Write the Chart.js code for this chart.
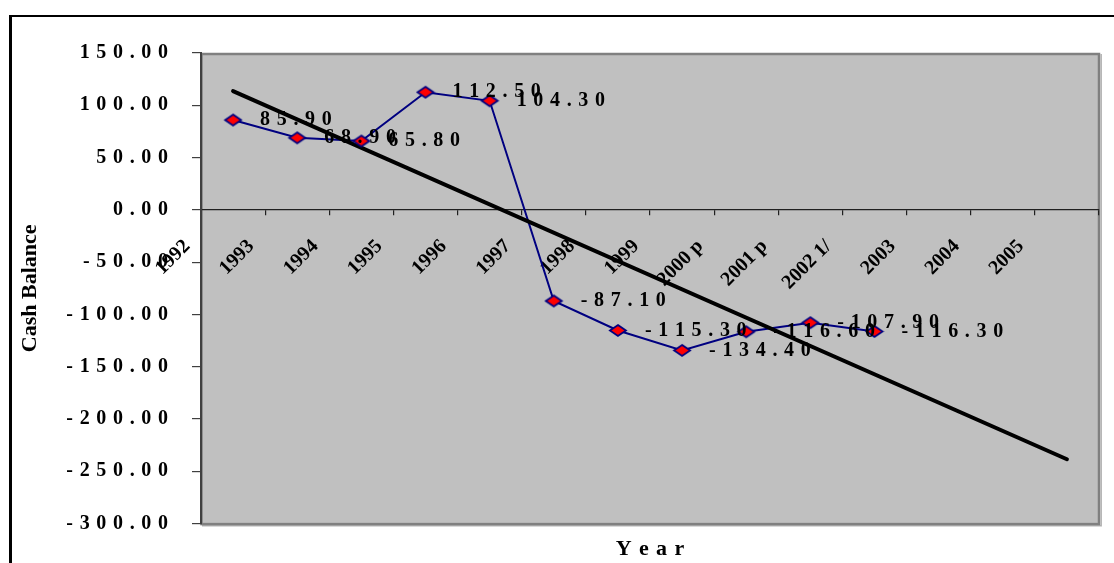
<!DOCTYPE html>
<html>
<head>
<meta charset="utf-8">
<script src="https://cdn.jsdelivr.net/npm/chart.js@4.4.1/dist/chart.umd.min.js"></script>
<style>
  html, body { margin: 0; padding: 0; background: #ffffff; }
  #wrap { position: relative; width: 1114px; height: 563px; overflow: hidden; background: #ffffff; }
  #frame { position: absolute; left: 9px; top: 15px; width: 1200px; height: 700px;
           border-left: 3px solid #000; border-top: 2.5px solid #000; }
  #c { position: absolute; left: 0; top: 0; }
</style>
</head>
<body>
<div id="wrap">
  <div id="frame"></div>
  <canvas id="c" width="1114" height="563"></canvas>
</div>
<script>
// Category labels along the year axis
const years = ['1992', '1993', '1994', '1995', '1996', '1997', '1998', '1999',
               '2000 p', '2001 p', '2002 1/', '2003', '2004', '2005'];

// Cash balance per year
const cashBalance = [85.90, 68.90, 65.80, 112.50, 104.30, -87.10, -115.30,
                     -134.40, -116.60, -107.90, -116.30];

// Linear trend: first and last values, the line spans the gap between them
const trendLine = [113.5, null, null, null, null, null, null, null, null, null,
                   null, null, null, -238.5];

// Value axis range and step
const yRange = [-300, 150];
const yStep = 50;

const SERIF = "'Liberation Serif', 'Times New Roman', serif";

// Wide-set characters, as printed in the document
const spaced = s => String(s).split('').join('\u2004');

// Flattened red diamond marker with navy outline
function diamondMarker(w, h) {
  const c = document.createElement('canvas');
  c.width = w + 4; c.height = h + 4;
  const g = c.getContext('2d');
  g.beginPath();
  g.moveTo(c.width / 2, 2);
  g.lineTo(c.width - 2, c.height / 2);
  g.lineTo(c.width / 2, c.height - 2);
  g.lineTo(2, c.height / 2);
  g.closePath();
  g.fillStyle = '#ff0000';
  g.fill();
  g.lineWidth = 1.8;
  g.strokeStyle = '#000080';
  g.stroke();
  return c;
}

// Grey plot area with a framed edge
const plotFrame = {
  id: 'plotFrame',
  beforeDraw(chart) {
    const { ctx, chartArea: a } = chart;
    ctx.save();
    ctx.fillStyle = '#c0c0c0';
    ctx.fillRect(a.left, a.top, a.right - a.left, a.bottom - a.top);
    ctx.strokeStyle = '#b4b4b4';
    ctx.lineWidth = 1.5;
    ctx.beginPath();
    ctx.moveTo(a.right + 2.2, a.top + 1);
    ctx.lineTo(a.right + 2.2, a.bottom + 2.2);
    ctx.lineTo(a.left + 1, a.bottom + 2.2);
    ctx.stroke();
    ctx.strokeStyle = '#808080';
    ctx.lineWidth = 2.5;
    ctx.strokeRect(a.left + 0.5, a.top + 1, a.right - a.left - 0.5, a.bottom - a.top - 0.5);
    ctx.restore();
  }
};

// Value labels beside each marker
const valueLabels = {
  id: 'valueLabels',
  afterDatasetsDraw(chart) {
    const { ctx } = chart;
    const meta = chart.getDatasetMeta(0);
    const values = chart.data.datasets[0].data;
    ctx.save();
    ctx.font = 'bold 20px ' + SERIF;
    ctx.fillStyle = '#000000';
    ctx.textAlign = 'left';
    ctx.textBaseline = 'middle';
    meta.data.forEach((pt, i) => {
      const v = values[i];
      if (v === null || v === undefined) return;
      ctx.fillText(spaced(v.toFixed(2)), pt.x + 27, pt.y);
    });
    ctx.restore();
  }
};

new Chart(document.getElementById('c'), {
  type: 'line',
  data: {
    labels: years,
    datasets: [
      {
        label: 'Cash Balance',
        data: cashBalance,
        showLine: false,
        pointStyle: diamondMarker(16, 11),
        pointRadius: 8,
        pointHoverRadius: 8
      },
      {
        label: 'Trend',
        data: trendLine,
        spanGaps: true,
        borderColor: '#000000',
        borderWidth: 4,
        borderCapStyle: 'round',
        pointRadius: 0,
        pointHoverRadius: 0,
        tension: 0
      },
      {
        label: 'Cash Balance line',
        data: cashBalance,
        borderColor: '#000080',
        borderWidth: 2,
        pointRadius: 0,
        pointHoverRadius: 0,
        tension: 0
      }
    ]
  },
  options: {
    responsive: false,
    animation: false,
    events: [],
    layout: { padding: { top: 53, left: 10, right: 15, bottom: 0 } },
    plugins: {
      legend: { display: false },
      tooltip: { enabled: false },
      title: {
        display: true,
        position: 'bottom',
        fullSize: false,
        text: spaced('Year'),
        color: '#000000',
        font: { family: SERIF, size: 22, weight: 'bold' },
        padding: { top: 13, bottom: 0 }
      }
    },
    scales: {
      x: {
        type: 'category',
        position: { y: 0 },
        offset: true,
        grid: {
          display: true,
          offset: true,
          drawOnChartArea: false,
          drawTicks: true,
          tickLength: 5,
          color: '#202020',
          lineWidth: 1.2
        },
        border: { display: true, color: '#202020', width: 1.3 },
        ticks: {
          autoSkip: false,
          minRotation: 45,
          maxRotation: 45,
          labelOffset: -46,
          padding: 20,
          color: '#000000',
          font: { family: SERIF, size: 20, weight: 'bold' }
        }
      },
      y: {
        min: yRange[0],
        max: yRange[1],
        grid: {
          drawOnChartArea: false,
          drawTicks: true,
          tickLength: 9,
          color: '#404040',
          lineWidth: 1.2
        },
        border: { display: true, color: '#404040', width: 2 },
        ticks: {
          stepSize: yStep,
          padding: 24,
          color: '#000000',
          font: { family: SERIF, size: 20, weight: 'bold' },
          callback: v => spaced(Number(v).toFixed(2))
        },
        title: {
          display: true,
          text: 'Cash Balance',
          color: '#000000',
          font: { family: SERIF, size: 22, weight: 'bold' },
          padding: { top: 7, bottom: 0 }
        },
        afterFit(scale) { scale.width = 191; }
      }
    }
  },
  plugins: [plotFrame, valueLabels]
});
</script>
</body>
</html>
